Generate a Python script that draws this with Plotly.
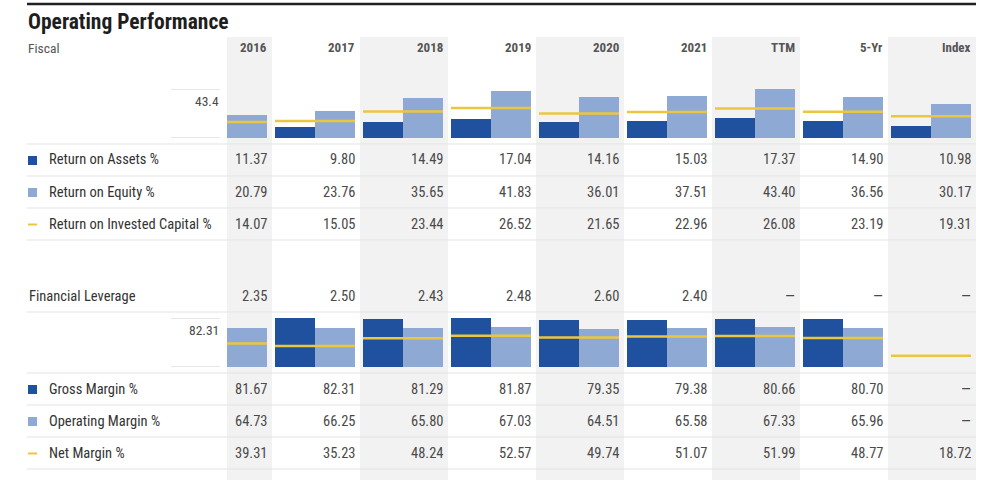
import plotly.graph_objects as go

# ---------------- data ----------------
columns = ["2016", "2017", "2018", "2019", "2020", "2021", "TTM", "5-Yr", "Index"]
roa = [11.37, 9.80, 14.49, 17.04, 14.16, 15.03, 17.37, 14.90, 10.98]
roe = [20.79, 23.76, 35.65, 41.83, 36.01, 37.51, 43.40, 36.56, 30.17]
roic = [14.07, 15.05, 23.44, 26.52, 21.65, 22.96, 26.08, 23.19, 19.31]
fin_lev = [2.35, 2.50, 2.43, 2.48, 2.60, 2.40, None, None, None]
gross = [81.67, 82.31, 81.29, 81.87, 79.35, 79.38, 80.66, 80.70, None]
oper = [64.73, 66.25, 65.80, 67.03, 64.51, 65.58, 67.33, 65.96, None]
net = [39.31, 35.23, 48.24, 52.57, 49.74, 51.07, 51.99, 48.77, 18.72]
shaded = ["2016", "2018", "2020", "TTM", "Index"]

# ---------------- style ----------------
W, H = 993, 480
DARK = "#1f519f"
LIGHT = "#8eaad4"
GOLD = "#ecc63e"
SHADE = "#f2f2f2"
RULE = "#e3e3e3"
TXT = "#333333"
NUM = "#4a4a4a"
FONT = "Liberation Sans Narrow, Roboto Condensed, Arial Narrow, Roboto, sans-serif"

def py(p):
    return 1 - p / H

def px(p):
    return p / W

col_w = 88.0
x_left_px, x_right_px = 227, 976
xmax = len(columns) - 0.5
xmin = xmax - (x_right_px - x_left_px) / col_w
dark_off = -0.5 + 3 / col_w
light_off = -0.5 + 43 / col_w
bar_w = 40 / col_w
idx = list(range(len(columns)))

fig = go.Figure()

def add_chart(dark_vals, light_vals, gold_vals, xa, ya):
    fig.add_trace(go.Bar(x=idx, y=dark_vals, offset=dark_off, width=bar_w,
                         marker=dict(color=DARK, line=dict(width=0)),
                         xaxis=xa, yaxis=ya, showlegend=False, hoverinfo="skip"))
    fig.add_trace(go.Bar(x=idx, y=light_vals, offset=light_off, width=bar_w,
                         marker=dict(color=LIGHT, line=dict(width=0)),
                         xaxis=xa, yaxis=ya, showlegend=False, hoverinfo="skip"))
    gx, gy = [], []
    for i, v in zip(idx, gold_vals):
        if v is None:
            continue
        gx += [i + dark_off, i + light_off + bar_w, None]
        gy += [v, v, None]
    fig.add_trace(go.Scatter(x=gx, y=gy, mode="lines",
                             line=dict(color=GOLD, width=2.5),
                             xaxis=xa, yaxis=ya, showlegend=False, hoverinfo="skip"))

add_chart(roa, roe, roic, "x", "y")
add_chart(gross, oper, net, "x2", "y2")

top_max = max(v for v in roa + roe + roic if v is not None)
bot_max = max(v for v in gross + oper + net if v is not None)

shapes = []
# shaded columns
for i, c in enumerate(columns):
    if c in shaded:
        shapes.append(dict(type="rect", xref="x", yref="paper",
                           x0=max(i - 0.5, xmin), x1=i + 0.5, y0=0, y1=py(37),
                           fillcolor=SHADE, line=dict(width=0), layer="below"))
# top rule
shapes.append(dict(type="line", xref="paper", yref="paper", x0=px(27), x1=px(976),
                   y0=py(4), y1=py(4), line=dict(color="#222222", width=2.5)))
# row rules
for yy in [144, 176, 208, 240, 312, 373, 405, 437, 469]:
    shapes.append(dict(type="line", xref="paper", yref="paper", x0=px(27), x1=px(976),
                       y0=py(yy), y1=py(yy), line=dict(color=RULE, width=1)))
# mini axis lines
for yref, ymax in [("y", top_max), ("y2", bot_max)]:
    for val in (0, ymax):
        shapes.append(dict(type="line", xref="paper", yref=yref, x0=px(171), x1=px(220),
                           y0=val, y1=val, line=dict(color="#cfcfcf", width=1)))

annotations = []
def txt(x, y, s, size=14, color=NUM, anchor="right", xref="paper", bold=False):
    annotations.append(dict(x=x, y=y, xref=xref, yref="paper", text=f"<b>{s}</b>" if bold else s,
                            showarrow=False, xanchor=anchor, yanchor="middle",
                            font=dict(family=FONT, size=size, color=color)))

txt(px(26), py(22), "Operating Performance", size=21.5, color="#1e1e1e", anchor="left", bold=True)
txt(px(26), py(48), "Fiscal", size=13.5, color="#555555", anchor="left")
for i, c in enumerate(columns):
    txt(i + 0.5 - 3 / col_w, py(48), c, size=13, color="#555555", xref="x", bold=True)

txt(px(221), py(101), f"{top_max:.1f}", size=13.5)
txt(px(221), py(330), f"{bot_max:.2f}", size=13.5)

def fmt(v):
    return "—" if v is None else f"{v:.2f}"

rows = [
    ("Return on Assets %", roa, 160, "sq", DARK),
    ("Return on Equity %", roe, 192, "sq", LIGHT),
    ("Return on Invested Capital %", roic, 224, "dash", GOLD),
    ("Financial Leverage", fin_lev, 296, None, None),
    ("Gross Margin %", gross, 389, "sq", DARK),
    ("Operating Margin %", oper, 421, "sq", LIGHT),
    ("Net Margin %", net, 453, "dash", GOLD),
]
for label, vals, yy, mk, col in rows:
    lx = 47 if mk else 27
    txt(px(lx), py(yy), label, size=14.5, color=TXT, anchor="left")
    if mk == "sq":
        shapes.append(dict(type="rect", xref="paper", yref="paper", x0=px(28), x1=px(37),
                           y0=py(yy + 5), y1=py(yy - 4), fillcolor=col, line=dict(width=0)))
    elif mk == "dash":
        shapes.append(dict(type="line", xref="paper", yref="paper", x0=px(28), x1=px(37),
                           y0=py(yy + 0.5), y1=py(yy + 0.5), line=dict(color=col, width=2)))
    for i, v in enumerate(vals):
        txt(i + 0.5 - 3 / col_w, py(yy), fmt(v), size=14.5, color=NUM, xref="x")

ax_common = dict(visible=False, fixedrange=True)
fig.update_layout(
    width=W, height=H, margin=dict(l=0, r=0, t=0, b=0),
    paper_bgcolor="white", plot_bgcolor="rgba(0,0,0,0)",
    barmode="overlay", bargap=0,
    xaxis=dict(domain=[px(x_left_px), px(x_right_px)], range=[xmin, xmax], anchor="y", **ax_common),
    xaxis2=dict(domain=[px(x_left_px), px(x_right_px)], range=[xmin, xmax], anchor="y2", matches="x", **ax_common),
    yaxis=dict(domain=[py(138), py(89)], range=[0, top_max], anchor="x", **ax_common),
    yaxis2=dict(domain=[py(367), py(318)], range=[0, bot_max], anchor="x2", **ax_common),
    shapes=shapes, annotations=annotations, showlegend=False,
)
fig.write_html("out.html", config={"displayModeBar": False},
               post_script="document.body.style.margin='0px';document.body.style.overflow='hidden';")
